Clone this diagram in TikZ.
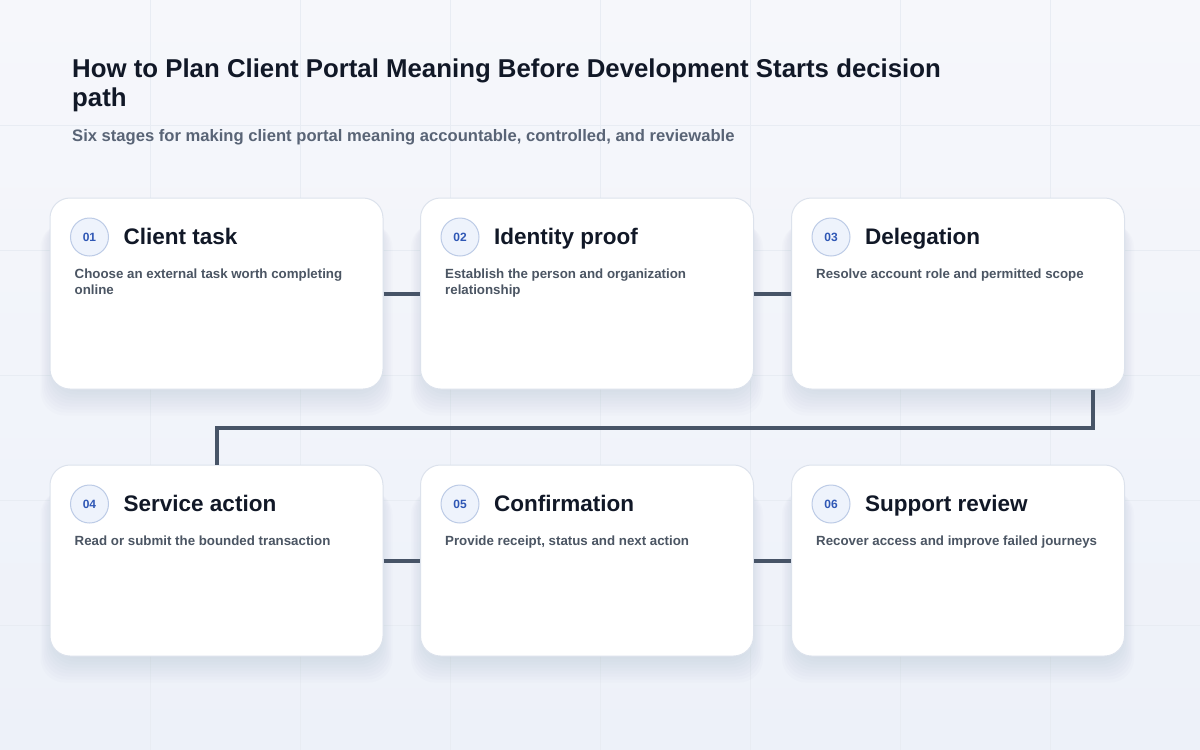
\documentclass[tikz,border=0pt]{standalone}
\usepackage{fontspec}
\setmainfont{Liberation Sans}
\usetikzlibrary{positioning,calc}
\hyphenpenalty=10000
\exhyphenpenalty=10000
\definecolor{bgtop}{HTML}{F6F7FB}
\definecolor{bgbot}{HTML}{EDF1F9}
\definecolor{gridc}{HTML}{E8ECF3}
\definecolor{ink}{HTML}{111827}
\definecolor{muted}{HTML}{4B5563}
\definecolor{subc}{HTML}{596476}
\definecolor{cardline}{HTML}{DCE2EC}
\definecolor{numfill}{HTML}{EEF3FC}
\definecolor{numline}{HTML}{BCCBE6}
\definecolor{numtext}{HTML}{2F57B5}
\definecolor{wire}{HTML}{475467}
\definecolor{shadowc}{HTML}{5A6B90}
\begin{document}
\begin{tikzpicture}[x=1pt, y=-1pt,
    card/.style={draw=cardline, fill=white, line width=1pt, rounded corners=20pt,
      minimum width=333pt, minimum height=191pt, inner sep=0pt},
    num/.style={circle, draw=numline, fill=numfill, line width=1pt, minimum size=38pt,
      inner sep=0pt, text=numtext, font=\fontsize{12}{12}\selectfont\bfseries},
    head/.style={anchor=base west, inner sep=0pt, text=ink, font=\fontsize{22.5}{26}\selectfont\bfseries},
    desc/.style={anchor=north west, inner sep=0pt, text width=295pt, align=flush left, text=muted,
      font=\fontsize{13.3}{16}\selectfont\bfseries},
    link/.style={draw=wire, line width=4pt}]
  % background and grid
  \fill[top color=bgtop, bottom color=bgbot] (0,0) rectangle (1200,750);
  \useasboundingbox (0,0) rectangle (1200,750);
  \foreach \gx in {150,300,...,1050} \draw[gridc, line width=1pt] (\gx,0) -- (\gx,750);
  \foreach \gy in {125,250,...,625} \draw[gridc, line width=1pt] (0,\gy) -- (1200,\gy);
  % titles
  \node[anchor=north west, inner sep=0pt, align=left, text=ink,
    font=\fontsize{25.8}{29}\selectfont\bfseries] (title) at (72,58.5)
    {How to Plan Client Portal Meaning Before Development Starts decision\\path};
  \node[anchor=base west, inner sep=0pt, text=subc, font=\fontsize{16.6}{19}\selectfont\bfseries]
    (subtitle) at (72,141.5)
    {Six stages for making client portal meaning accountable, controlled, and reviewable};
  % cards
  \foreach \i/\cx/\cy/\name/\text in {
      1/216.5/293.5/Client task/Choose an external task worth completing online,
      2/587/293.5/Identity proof/Establish the person and organization relationship,
      3/958/293.5/Delegation/Resolve account role and permitted scope,
      4/216.5/560.5/Service action/Read or submit the bounded transaction,
      5/587/560.5/Confirmation/{Provide receipt, status and next action},
      6/958/560.5/Support review/Recover access and improve failed journeys} {
    \foreach \k in {1,...,10}
      \fill[shadowc, opacity=0.015, rounded corners=24pt]
        ({\cx-160-1.6*\k},{\cy-80+\k}) rectangle ({\cx+160+1.6*\k},{\cy+92+3*\k});
    \node[card] (c\i) at (\cx,\cy) {};
    \node[num] (n\i) at ($(c\i.north west)+(40,39.5)$) {0\i};
    \node[head] (h\i) at ($(c\i.north west)+(74,47)$) {\name};
    \node[desc] (d\i) at ($(c\i.north west)+(25,71)$) {\text};
  }
  % connectors
  \draw[link] (c1.east) -- (c2.west);
  \draw[link] (c2.east) -- (c3.west);
  \coordinate (turn) at ($(c3.south east)+(-32,0)$);
  \draw[link] (turn) -- ++(0,38) -| (c4.north);
  \draw[link] (c4.east) -- (c5.west);
  \draw[link] (c5.east) -- (c6.west);
\end{tikzpicture}
\end{document}
